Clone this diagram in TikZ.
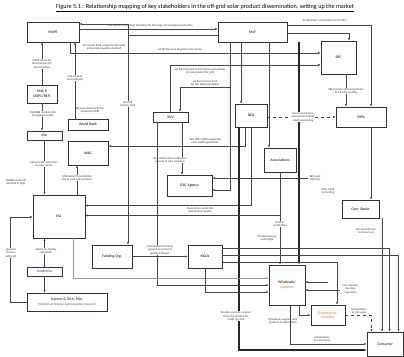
\documentclass[tikz,border=0pt]{standalone}
\usepackage{amsmath}
\usepackage{fontspec}
\setmainfont{Carlito}
\usetikzlibrary{arrows.meta}

\definecolor{boxline}{RGB}{50,50,50}
\definecolor{lnk}{RGB}{70,70,70}
\definecolor{pale}{RGB}{150,150,150}
\definecolor{txtblue}{RGB}{45,70,150}
\definecolor{txtorange}{RGB}{205,115,35}

\begin{document}
\begin{tikzpicture}[x=1pt,y=-1pt,
	box/.style={draw=boxline, line width=0.7pt, align=center, inner sep=0pt, font=\fontsize{3.8}{4.4}\selectfont},
	note/.style={align=center, inner sep=0.4pt, fill=white, text=black!80, font=\fontsize{2.9}{3.3}\selectfont},
	link/.style={draw=lnk, line width=0.45pt, -{Latex[length=2.6pt,width=2.2pt]}},
	heavy/.style={link, draw=black!85, line width=1.1pt},
	faint/.style={link, draw=pale}]

	\useasboundingbox (0,0) rectangle (404,356);

	\node[font=\fontsize{6.2}{7}\selectfont] (title) at (205,8) {\underline{Figure 5.1 : Relationship mapping of key stakeholders in the off-grid solar product dissemination, setting up the market}};

	% stakeholders
	\node[box, minimum width=52pt, minimum height=20pt] (mope) at (53,32) {MoPE};
	\node[box, minimum width=69pt, minimum height=20pt] (mof) at (252.5,32) {MoF};
	\node[box, minimum width=35pt, minimum height=33pt] (sbf) at (338.5,57.5) {SBF};
	\node[box, minimum width=30pt, minimum height=18pt] (moen) at (42,94) {MoE R\\(AEPC/REF)};
	\node[box, minimum width=40pt, minimum height=11pt] (wb) at (88,124.5) {World Bank};
	\node[box, minimum width=35pt, minimum height=9pt] (esa) at (44.5,135.5) {ESA};
	\node[box, minimum width=40pt, minimum height=24pt] (wag) at (88,153) {WAG};
	\node[box, minimum width=35pt, minimum height=10pt] (snv) at (170.5,117) {SNV};
	\node[box, minimum width=32pt, minimum height=23pt] (nea) at (251,115.5) {NEA};
	\node[box, minimum width=50pt, minimum height=20pt] (mfis) at (361,117) {MFIs};
	\node[box, minimum width=32pt, minimum height=24pt] (assoc) at (280,160) {Associations};
	\node[box, minimum width=45pt, minimum height=21pt] (dac) at (189.5,185.5) {DAC Agency};
	\node[box, minimum width=52pt, minimum height=43pt] (esl) at (59,216.5) {ESL};
	\node[box, minimum width=40pt, minimum height=23pt] (fund) at (112,256.5) {Funding Org.};
	\node[box, minimum width=34pt, minimum height=23pt] (ngo) at (205,256.5) {NGOs};
	\node[box, minimum width=37pt, minimum height=18pt] (banks) at (360.5,209) {Com. Banks};
	\node[box, minimum width=35pt, minimum height=9pt, text=txtblue] (acad) at (44.5,271.5) {Academia};
	\node[box, minimum width=80pt, minimum height=18pt] (stm) at (67,302) {Science \& Tech. Min.\\\textcolor{txtblue}{\fontsize{3.2}{3.8}\selectfont(Ministry of Science and Innovation Council)}};
	\node[box, minimum width=36pt, minimum height=40pt] (whs) at (287,285) {Wholesale/\\\textcolor{txtorange}{suppliers}};
	\node[box, minimum width=34pt, minimum height=20pt, text=txtorange] (dist) at (328,315) {Distributors/\\retailers};
	\node[box, minimum width=36pt, minimum height=24pt] (cons) at (385,344) {Consumer};

	% top: MoPE and MoF
	\draw[link] ([yshift=3pt]mope.east) -- ([yshift=3pt]mof.west);
	\node[note] (l1) at (150,26) {MoF advise on the fund allocation for the stage of renewable production};
	\coordinate (mtop) at (128,24);
	\draw[link] ([yshift=-3pt]mof.west) -| (mtop) -- (mtop -| mope.east);
	\draw[link, line width=0.7pt] (mtop) -- (mtop |- fund.north);
	\node[note] (l2) at (128,104) {Head of\\fund by MoF};

	\draw[link] (moen.north) -- (moen.north |- mope.south);
	\node[note] (l3) at (42,64) {MoPE advise for\\financial plan for\\line ministries};
	\coordinate (wtop) at ([xshift=-13pt]wb.north);
	\draw[link] (wtop) -- (wtop |- mope.south);
	\node[note] (l4) at (75,78) {Sub-sectoral\\cost (subsidy)};
	\node[note] (l5) at (90,110) {RE promotion/technical\\assistance (WB)};

	\coordinate (mbot) at ([xshift=17pt]mope.south);
	\draw[link] (mbot) |- ([yshift=4.5pt]sbf.west);
	\node[note] (l6) at (104,47.5) {Set annual fund, products (demand)\\and product quality standard};
	\node[note] (l7) at (180,50) {set the financial target for solar sector};

	\coordinate (stop) at ([xshift=-0.5pt]snv.north);
	\draw[link] (stop) |- ([yshift=-7.5pt]sbf.west);
	\node[note] (l8) at (200,71) {set fixed amount of fund (type and quality)\\of solar product for grid};
	\coordinate (kink) at (230,87);
	\draw[link] (kink) -| ([xshift=9.5pt]snv.north);
	\node[note] (l9) at (205,83) {set fixed annual fund\\for the National Market};

	% from MoF downwards
	\draw[link] ([xshift=-22.5pt]mof.south) |- ([yshift=-4.5pt]dac.east);
	\coordinate (ntop) at ([xshift=-10pt]nea.north);
	\draw[link] (ntop |- mof.south) -- (ntop);
	\coordinate (atop) at ([xshift=-11pt]assoc.north);
	\draw[link] (atop |- mof.south) -- (atop);
	\coordinate (wtop2) at ([xshift=12pt]whs.north);
	\draw[heavy] (wtop2 |- mof.south) -- (wtop2);

	% MoF to the finance side
	\draw[link] ([yshift=-1pt]mof.east) -| ([xshift=10.5pt]sbf.north);
	\draw[link] ([yshift=7pt]mof.east) -| ([xshift=10pt]mfis.north);
	\node[note] (l10) at (325,21) {Funds direct contribution for/to MFIs};
	\coordinate (sbot) at ([xshift=7.5pt]sbf.south);
	\draw[link] (sbot) -- (sbot |- mfis.north);
	\node[note] (l11) at (346,91) {SBF provide refinancing/loans\\to MFIs for lending};
	\coordinate (fbot) at ([xshift=10pt]mfis.south);
	\draw[link] (fbot) -- (fbot |- banks.north);
	\node[note] (l12) at (328,191) {MFIs credit\\on lending};

	% NEA
	\coordinate (nr) at ([yshift=-1.5pt]nea.east);
	\draw[link, dashed] (nr) -- (nr -| mfis.west);
	\node[note] (l13) at (303,117) {Document \& loan\\repayments/refund\\credits to lending};
	\coordinate (nb1) at ([xshift=-6pt]nea.south);
	\draw[link] (nb1) |- ([yshift=7pt]wag.east);
	\node[note] (l14) at (205,141.5) {NEA offers DFID-supported\\solar quality guidelines};
	\draw[link] (nea.south) |- ([yshift=11pt]esl.east);
	\coordinate (nb2) at ([xshift=-12pt]nea.south);
	\draw[heavy] (nb2) |- ([yshift=-6pt]cons.west);
	\node[note] (l15) at (236,316) {Provide a service on loan/\\financing product for\\credit on solar};

	% associations
	\draw[link] (assoc.south) |- ([yshift=1pt]esl.east);
	\draw[link] (assoc.south) -- (assoc.south |- whs.north);
	\node[note] (l16) at (200,210.5) {Associations assist ESL\\with product quality};
	\node[note] (l17) at (280,224) {Vendor/\\verification};
	\node[note, anchor=east] (l18) at (277,238) {Provide training\\and insight};
	\coordinate (grant) at (308,178);
	\draw[link] (grant) -- (grant -| dac.east);
	\node[note, anchor=west] (l19) at (309,178) {SBF grant\\stimulus};

	% SNV
	\coordinate (sb1) at ([xshift=11.5pt]snv.south);
	\draw[link] (sb1) -- (sb1 |- dac.north);
	\node[note] (l20) at (170,160) {DAC defines ESA verification\\process of solar products};
	\coordinate (sb2) at ([xshift=-13.5pt]snv.south);
	\draw[link] (sb2) |- (whs.west);

	% left column
	\draw[link] (moen.south) -- (moen.south |- esa.north);
	\node[note] (l21) at (43,114) {MoEWRI requires ESA\\to regulate quality};
	\draw[link] (esa.south) -- (esa.south |- esl.north);
	\node[note] (l22) at (44,164) {ESA provides (Director)\\on solar sector};
	\node[note] (l23) at (16,182) {Flexible technical\\demand in tight};
	\coordinate (wbot) at ([xshift=-11pt]wag.south);
	\draw[link] (wbot |- esl.north) -- (wbot);
	\node[note] (l24) at (77,178) {Ultimately/Consolidation\\ESL to each solar product};
	\coordinate (lp) at (10,217);
	\draw[link] (stm.west) -| (lp) -- (lp -| esl.west);
	\node[note] (l25) at (11,253) {Approve\\finance\\safety kit};
	\draw[link] (acad.north) -- (acad.north |- esl.south);
	\node[note] (l26) at (46,251) {Advice on Quality\\Standard};
	\draw[link] (acad.south) -- (acad.south |- stm.north);

	% into the market
	\coordinate (eb) at ([xshift=14pt]esl.south);
	\draw[faint] (eb) |- ([yshift=7pt]whs.west);
	\draw[link] (ngo.south) |- ([yshift=-7pt]whs.west);
	\draw[link] (fund.east) -- (ngo.west);
	\node[note] (l27) at (160,250) {Intermediate technical\\support on products\\quality \& finance};
	\coordinate (g1) at ([yshift=1.5pt]ngo.east);
	\draw[link] (g1) -| ([xshift=13.5pt]cons.north);
	\coordinate (g2) at ([yshift=8.5pt]ngo.east);
	\draw[link] (g2) -| ([xshift=4.5pt]cons.north);
	\coordinate (g3) at ([yshift=-5.5pt]ngo.east);
	\draw[link] (g3) -| ([xshift=9pt]dist.north);
	\coordinate (bb) at ([xshift=21.5pt]banks.south);
	\draw[link] (bb) -- (bb |- cons.north);
	\node[note] (l28) at (366,231) {CBs provide loan\\to consumers};

	\coordinate (gs1) at (340,290);
	\draw[link] (gs1) -- (gs1 -| whs.east);
	\coordinate (gs2) at (328,282);
	\draw[link] (gs2) -- (gs2 -| whs.east);
	\node[note, anchor=west] (l29) at (342,289) {Gov. Subsidy/\\tax, duty\\regulation};

	\coordinate (wb2) at ([xshift=12pt]whs.south);
	\draw[link] (wb2) |- (dist.west);
	\node[note] (l30) at (283,321) {Wholesale supplies solar\\products to distributors};
	\coordinate (wb3) at ([xshift=3pt]whs.south);
	\draw[link] (wb3) |- (cons.west);
	\node[note] (l31) at (322,339) {Sell products\\to consumers};
	\draw[link, dashed] (dist.east) -| ([xshift=-13.5pt]cons.north);
	\node[note] (l32) at (359,311) {Sell products\\to end users};
\end{tikzpicture}
\end{document}
